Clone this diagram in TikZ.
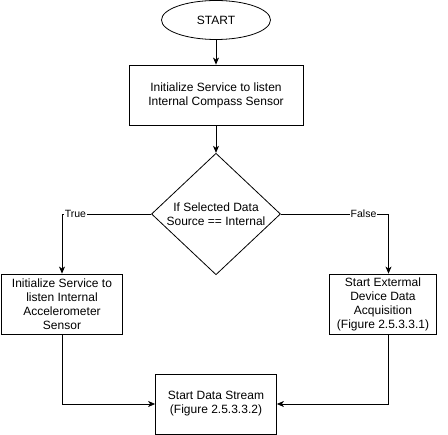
\documentclass[tikz,border=0pt]{standalone}
\usepackage{fontspec}
\setmainfont{Liberation Sans}
\usetikzlibrary{arrows.meta,shapes.geometric}

\begin{document}
\begin{tikzpicture}[->,>={Stealth[length=7pt,width=6pt,inset=2pt]},x=1pt,y=1pt,line width=0.8pt,
                    font=\fontsize{12}{14}\selectfont,
                    box/.style={draw,rectangle,minimum height=60pt,align=center,inner sep=2pt},
                    cond/.style={fill=white,inner sep=1pt,font=\fontsize{10.5}{12}\selectfont}]

  \useasboundingbox (0,0) rectangle (448,-435);

  \node[draw,ellipse,minimum width=109pt,minimum height=39pt](start) at (216,-20) {START};
  \node[box,minimum width=174pt](compass) [node distance=75pt,below of=start]
        {Initialize Service to listen\\Internal Compass Sensor};
  \node[draw,diamond,minimum width=129pt,minimum height=120pt,inner sep=0pt,align=center](choice)
        [node distance=119pt,below of=compass] {If Selected Data\\Source == Internal};
  \node[box,minimum width=121pt](accel) [node distance=90pt,below of=choice,xshift=-154pt]
        {Initialize Service to\\listen Internal\\Accelerometer\\Sensor};
  \node[box,minimum width=107pt](extern) [node distance=90pt,below of=choice,xshift=167pt]
        {Start Extermal\\Device Data\\Acquisition\\(Figure 2.5.3.3.1)};
  \node[box,minimum width=121pt](stream) [node distance=190pt,below of=choice]
        {Start Data Stream\\(Figure 2.5.3.3.2)};

  \path (start) edge (compass)
        (compass) edge (choice);

  \draw (choice.west) -| node[cond,pos=0.425] {True} (accel.north);
  \draw (choice.east) -| node[cond,pos=0.384] {False} ([xshift=5.5pt]extern.north);
  \draw (accel.south) |- (stream.west);
  \draw ([xshift=5.5pt]extern.south) |- (stream.east);

\end{tikzpicture}
\end{document}
